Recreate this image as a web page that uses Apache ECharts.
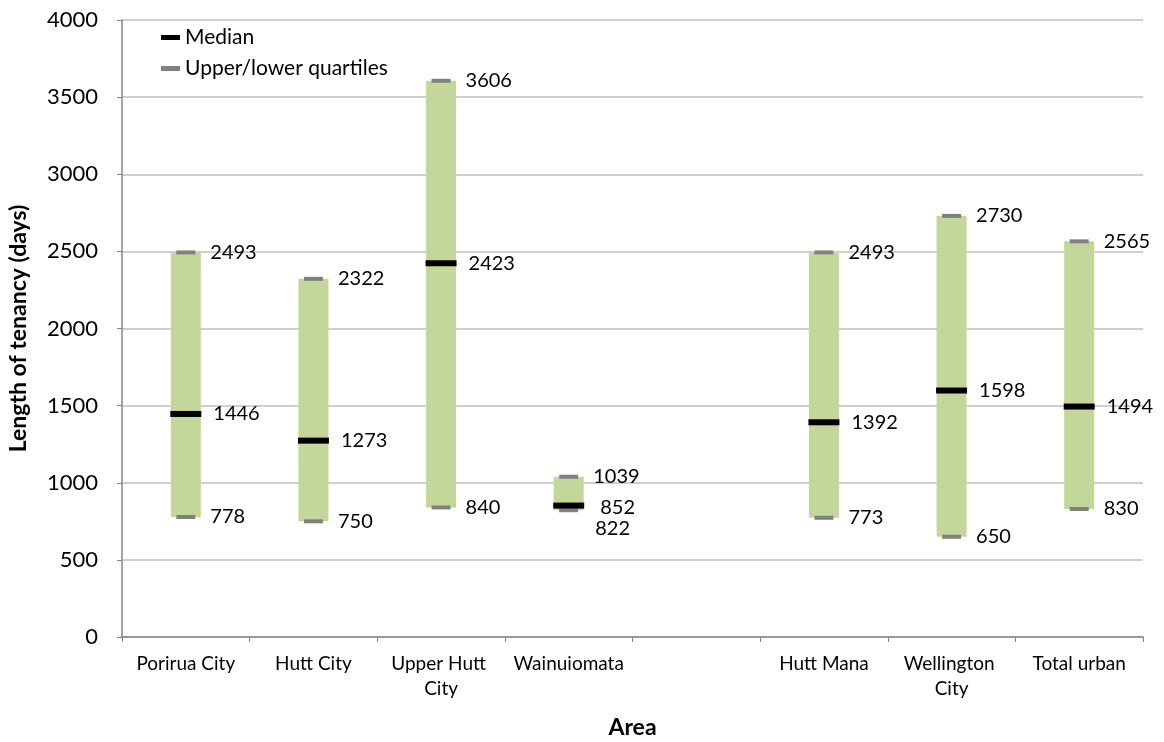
<!DOCTYPE html>
<html>
<head>
<meta charset="utf-8">
<title>Length of tenancy by area</title>
<script src="https://cdn.jsdelivr.net/npm/echarts@6/dist/echarts.min.js"></script>
<style>
  html, body { margin: 0; padding: 0; background: #fff; }
  #chart { width: 1164px; height: 742px; }
</style>
</head>
<body>
<div id="chart"></div>
<script>
// Tenancy length (days) per area: interquartile range and median
const categories = ['Porirua City', 'Hutt City', 'Upper Hutt City', 'Wainuiomata', '', 'Hutt Mana', 'Wellington City', 'Total urban'];
const lowerQuartile = [778, 750, 840, 822, null, 773, 650, 830];
const median = [1446, 1273, 2423, 852, null, 1392, 1598, 1494];
const upperQuartile = [2493, 2322, 3606, 1039, null, 2493, 2730, 2565];

const FONT = 'Lato, "Open Sans", sans-serif';
const BAR_GREEN = '#c4d79b';
const QUARTILE_GREY = '#808080';

// Small nudges for labels that would otherwise collide (Wainuiomata's box is short)
const labelNudge = {
  'Wainuiomata': { upper: [0, 0], median: [4, 2], lower: [2, 18] }
};

function points(values, key) {
  const out = [];
  values.forEach((v, i) => {
    if (v == null) return;
    const item = { value: [i, v] };
    const nudge = labelNudge[categories[i]];
    if (nudge && nudge[key]) item.label = { offset: nudge[key] };
    out.push(item);
  });
  return out;
}

const rangeData = [];
categories.forEach((c, i) => {
  if (lowerQuartile[i] == null) return;
  rangeData.push([i, lowerQuartile[i], upperQuartile[i]]);
});

const labelBase = {
  show: true,
  position: 'right',
  color: '#000',
  fontFamily: FONT,
  fontSize: 20,
  formatter: p => String(p.value[1])
};

const chart = echarts.init(document.getElementById('chart'), null, { renderer: 'canvas' });

chart.setOption({
  animation: false,
  backgroundColor: '#ffffff',
  textStyle: { fontFamily: FONT },
  grid: { left: 122, right: 21, top: 20, bottom: 105, containLabel: false, outerBoundsMode: 'none' },
  legend: {
    orient: 'vertical',
    left: 156,
    top: 22,
    itemWidth: 19,
    itemHeight: 5,
    itemGap: 10,
    selectedMode: false,
    textStyle: { fontFamily: FONT, fontSize: 21, color: '#000' },
    data: [
      { name: 'Median', icon: 'rect', itemStyle: { color: '#000' } },
      { name: 'Upper/lower quartiles', icon: 'rect', itemStyle: { color: QUARTILE_GREY } }
    ]
  },
  xAxis: {
    type: 'category',
    data: categories,
    name: 'Area',
    nameLocation: 'middle',
    nameGap: 79,
    nameTextStyle: { fontFamily: FONT, fontSize: 23, fontWeight: 'bold', color: '#000' },
    axisLine: { lineStyle: { color: '#868686', width: 1.5 } },
    axisTick: { show: true, length: 5, alignWithLabel: false, lineStyle: { color: '#868686' } },
    axisLabel: {
      interval: 0,
      margin: 14,
      color: '#000',
      fontFamily: FONT,
      fontSize: 19,
      lineHeight: 25,
      width: 112,
      overflow: 'break'
    },
    splitLine: { show: false }
  },
  yAxis: {
    type: 'value',
    min: 0,
    max: 4000,
    interval: 500,
    name: 'Length of tenancy (days)',
    nameLocation: 'middle',
    nameGap: 92,
    nameTextStyle: { fontFamily: FONT, fontSize: 23, fontWeight: 'bold', color: '#000' },
    axisLine: { show: true, lineStyle: { color: '#868686', width: 1.5 } },
    axisTick: { show: true, length: 5, lineStyle: { color: '#868686' } },
    axisLabel: { margin: 24, color: '#000', fontFamily: FONT, fontSize: 22, formatter: v => String(v) },
    splitLine: { show: true, lineStyle: { color: '#bfbfbf', width: 1.5 } }
  },
  series: [
    {
      name: 'Interquartile range',
      type: 'custom',
      data: rangeData,
      encode: { x: 0, y: [1, 2] },
      z: 2,
      renderItem: function (params, api) {
        const top = api.coord([api.value(0), api.value(2)]);
        const bottom = api.coord([api.value(0), api.value(1)]);
        const w = 30;
        return {
          type: 'rect',
          shape: { x: top[0] - w / 2, y: top[1], width: w, height: bottom[1] - top[1] },
          style: { fill: BAR_GREEN }
        };
      }
    },
    {
      name: 'Upper/lower quartiles',
      type: 'scatter',
      data: points(upperQuartile, 'upper'),
      symbol: 'rect',
      symbolSize: [19, 4],
      itemStyle: { color: QUARTILE_GREY, opacity: 1 },
      label: Object.assign({}, labelBase, { distance: 15 }),
      z: 4
    },
    {
      name: 'Upper/lower quartiles',
      type: 'scatter',
      data: points(lowerQuartile, 'lower'),
      symbol: 'rect',
      symbolSize: [19, 4],
      itemStyle: { color: QUARTILE_GREY, opacity: 1 },
      label: Object.assign({}, labelBase, { distance: 15 }),
      z: 4
    },
    {
      name: 'Median',
      type: 'scatter',
      data: points(median, 'median'),
      symbol: 'rect',
      symbolSize: [31, 6],
      itemStyle: { color: '#000', opacity: 1 },
      label: Object.assign({}, labelBase, { distance: 12 }),
      z: 5
    }
  ]
});
</script>
</body>
</html>
